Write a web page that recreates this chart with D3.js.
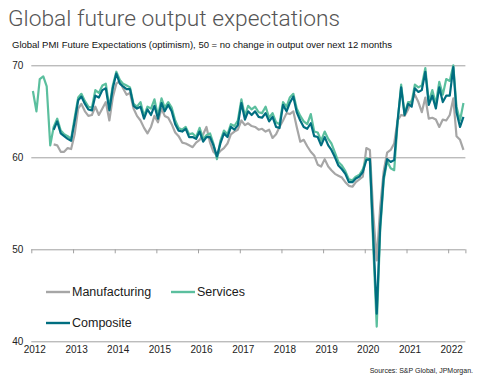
<!DOCTYPE html>
<html>
<head>
<meta charset="utf-8">
<script src="https://cdn.jsdelivr.net/npm/d3@7"></script>
<style>
  html, body { margin: 0; padding: 0; background: #fff; }
  svg { display: block; }
</style>
</head>
<body>
<svg id="chart" width="481" height="382"></svg>
<script>
// ---- Data (monthly, Jan 2012 – May 2022; null = no data) ----
const startYear = 2012;
const startMonth = 0;
const yTicks = [40, 50, 60, 70];
const yearTicks = [2012, 2013, 2014, 2015, 2016, 2017, 2018, 2019, 2020, 2021, 2022];
const seriesNames = ["Manufacturing", "Services", "Composite"];

const services = [
  67.2, 65.0, 68.5, 68.8, 67.7, 61.3, 63.3, 64.2, 62.9, 62.5, 62.3, 62.0,
  64.3, 66.5, 66.9, 66.1, 65.5, 65.4, 67.3, 67.0, 67.8, 68.0, 65.4, 67.8,
  69.3, 68.4, 68.0, 67.8, 67.6, 65.8, 65.5, 66.0, 64.5, 65.5, 65.3, 66.3,
  64.5, 66.4, 65.4, 66.0, 65.4, 64.0, 63.2, 63.0, 63.3, 62.5, 62.6, 62.2,
  63.2, 62.0, 62.4, 62.6, 61.5, 59.8, 61.8, 62.9, 62.5, 63.6, 63.4, 64.0,
  66.3, 64.5, 65.6, 65.2, 65.5, 64.9, 64.8, 65.5, 64.3, 64.8, 63.8, 63.6,
  66.0, 65.5, 66.5, 66.9, 65.3, 64.5, 63.9, 63.6, 64.7, 62.8, 62.7, 61.8,
  62.8, 62.0, 61.5, 60.5, 59.5, 59.1, 58.5, 57.6, 57.5, 57.9, 58.1, 58.7,
  59.9, 59.7, 50.5, 41.6, 52.0, 57.5, 59.6, 58.8, 58.6, 63.8, 67.9, 64.7,
  66.0, 66.0, 67.9, 67.6, 67.8, 69.7, 66.0, 67.3, 65.8, 68.2, 66.8, 68.5,
  68.3, 70.0, 65.5, 64.0, 65.9
];
const composite = [
  null, null, null, null, null, null, 63.0, 63.9, 62.6, 62.3, 62.0, 61.8,
  63.9, 66.2, 66.6, 65.8, 65.2, 65.1, 66.7, 66.5, 67.3, 67.5, 65.1, 67.5,
  69.1, 68.0, 67.7, 67.4, 67.4, 65.6, 65.3, 65.5, 64.2, 65.2, 64.6, 65.6,
  64.2, 65.9, 65.0, 65.7, 65.0, 63.6, 62.9, 62.8, 63.1, 62.2, 62.2, 62.0,
  62.8, 61.7, 62.2, 62.2, 61.3, 60.1, 61.5, 62.6, 62.2, 63.3, 63.0, 63.5,
  65.9, 64.1, 65.0, 64.6, 65.0, 64.4, 64.3, 64.8, 63.9, 64.4, 63.3, 63.2,
  65.7, 65.0, 65.9, 66.6, 64.9, 64.0, 63.3, 63.1, 63.7, 62.3, 62.2, 61.3,
  62.2, 61.3, 60.8, 60.0, 59.1, 58.7, 58.2, 57.3, 57.3, 57.7, 57.9, 58.4,
  59.7, 59.8, 51.5, 43.0, 52.5, 57.8, 59.8, 59.5, 59.7, 64.0, 67.6, 64.6,
  65.8, 65.5, 67.5, 67.1, 67.3, 69.3, 65.7, 66.7, 65.3, 67.6, 66.0, 66.7,
  66.7, 69.8, 64.9, 63.3, 64.4
];
const manufacturing = [
  null, null, null, null, null, null, 61.4, 61.3, 60.6, 60.6, 61.0, 60.9,
  62.5, 65.3, 65.8, 65.0, 64.5, 64.6, 65.5, 64.6, 65.3, 66.0, 64.0, 66.5,
  68.0, 68.3, 67.5, 66.8, 67.0, 65.3, 64.5, 64.0, 63.2, 62.6, 63.3, 64.5,
  63.8, 65.3, 64.5, 64.3, 63.6, 62.7, 62.3, 61.6, 61.5, 61.3, 61.1, 61.6,
  61.9, 62.5, 63.3, 61.6, 60.6, 60.2, 60.7, 61.0, 61.5, 62.5, 62.8, 63.0,
  64.0, 63.5, 63.7, 63.4, 63.3, 63.0, 63.1, 62.8, 63.0, 62.1, 62.5, 63.3,
  64.0, 64.8, 64.7, 65.0, 63.3, 61.7, 61.9, 61.2, 60.6, 60.2, 59.2, 59.0,
  59.8, 59.0, 58.6, 58.2, 58.0, 57.8, 57.3, 56.9, 56.8, 57.3, 57.6, 57.9,
  61.0, 60.8, 54.0, 48.8, 54.5, 58.5, 60.5, 60.8, 61.5, 64.0, 64.6, 64.5,
  65.2, 66.2, 66.8, 66.0, 64.9, 66.5, 64.2, 64.3, 64.1, 63.3, 64.1, 64.0,
  64.6, 66.4, 62.3, 61.9, 60.8
];

const colors = { Manufacturing: "#a6a6a6", Services: "#5bbf9e", Composite: "#006e80" };

// ---- Chart ----
const svg = d3.select("#chart");
const plotLeft = 31.3, plotRight = 465.4, plotTop = 65.3, plotBottom = 341.3;

const x = d3.scaleTime()
  .domain([new Date(2012, 0, 1), new Date(2022, 5, 1)])
  .range([plotLeft, plotRight]);
const y = d3.scaleLinear().domain([40, 70]).range([plotBottom, plotTop]);

const dateOf = i => new Date(startYear, startMonth + i, 15);

// Title & subtitle
svg.append("text")
  .attr("x", 8).attr("y", 26)
  .attr("font-family", "Roboto, 'Open Sans', sans-serif")
  .attr("font-weight", 300)
  .attr("font-size", 22.5)
  .attr("fill", "#555")
  .attr("textLength", 332).attr("lengthAdjust", "spacingAndGlyphs")
  .text("Global future output expectations");

svg.append("text")
  .attr("x", 12).attr("y", 48)
  .attr("font-family", "'Liberation Sans', Arial, sans-serif")
  .attr("font-size", 9.6)
  .attr("fill", "#111")
  .attr("textLength", 380).attr("lengthAdjust", "spacingAndGlyphs")
  .text("Global PMI Future Expectations (optimism), 50 = no change in output over next 12 months");

// Gridlines + y labels
const yAxis = d3.axisLeft(y).tickValues(yTicks).tickSize(-(plotRight - plotLeft)).tickPadding(8).tickFormat(d3.format("d"));
const gy = svg.append("g").attr("transform", `translate(${plotLeft},0)`).call(yAxis);
gy.select(".domain").remove();
gy.selectAll(".tick line").attr("stroke", "#a0a0a0").attr("stroke-width", 1);
gy.selectAll(".tick text")
  .attr("font-family", "'Liberation Sans', Arial, sans-serif")
  .attr("font-size", 10).attr("fill", "#222");

// Tick marks on the 50 line
const tickDates = yearTicks.map(yr => new Date(yr, 0, 1)).concat([new Date(2022, 5, 1)]);
const xTickAxis = d3.axisBottom(x).tickValues(tickDates).tickSize(4).tickFormat("");
const gt = svg.append("g").attr("transform", `translate(0,${y(50)})`).call(xTickAxis);
gt.select(".domain").remove();
gt.selectAll(".tick line").attr("stroke", "#a0a0a0");

// Year labels at bottom
const xLabelAxis = d3.axisBottom(x).tickValues(yearTicks.map(yr => new Date(yr, 0, 1)))
  .tickSize(0).tickPadding(5).tickFormat(d3.timeFormat("%Y"));
const gx = svg.append("g").attr("transform", `translate(3,${plotBottom})`).call(xLabelAxis);
gx.select(".domain").remove();
gx.selectAll(".tick text")
  .attr("font-family", "'Liberation Sans', Arial, sans-serif")
  .attr("font-size", 10).attr("fill", "#222");

// Lines
const line = d3.line()
  .defined(d => d != null)
  .x((d, i) => x(dateOf(i)))
  .y(d => y(d));

const seriesData = { Manufacturing: manufacturing, Services: services, Composite: composite };
seriesNames.forEach(name => {
  svg.append("path")
    .datum(seriesData[name])
    .attr("fill", "none")
    .attr("stroke", colors[name])
    .attr("stroke-width", 2.2)
    .attr("stroke-linejoin", "round")
    .attr("d", line);
});

// Legend
const legendItems = [
  { name: "Manufacturing", x: 46, y: 292 },
  { name: "Services", x: 171, y: 292 },
  { name: "Composite", x: 46, y: 323 }
];
const lg = svg.append("g");
legendItems.forEach(it => {
  lg.append("line")
    .attr("x1", it.x).attr("x2", it.x + 24)
    .attr("y1", it.y).attr("y2", it.y)
    .attr("stroke", colors[it.name]).attr("stroke-width", 2.4);
  lg.append("text")
    .attr("x", it.x + 26).attr("y", it.y)
    .attr("dy", "0.35em")
    .attr("font-family", "'Liberation Sans', Arial, sans-serif")
    .attr("font-size", 12.5)
    .attr("fill", "#1a1a1a")
    .text(it.name);
});

// Source
svg.append("text")
  .attr("x", 473).attr("y", 373)
  .attr("text-anchor", "end")
  .attr("font-family", "'Liberation Sans', Arial, sans-serif")
  .attr("font-size", 7)
  .attr("fill", "#222")
  .text("Sources: S&P Global, JPMorgan.");
</script>
</body>
</html>
